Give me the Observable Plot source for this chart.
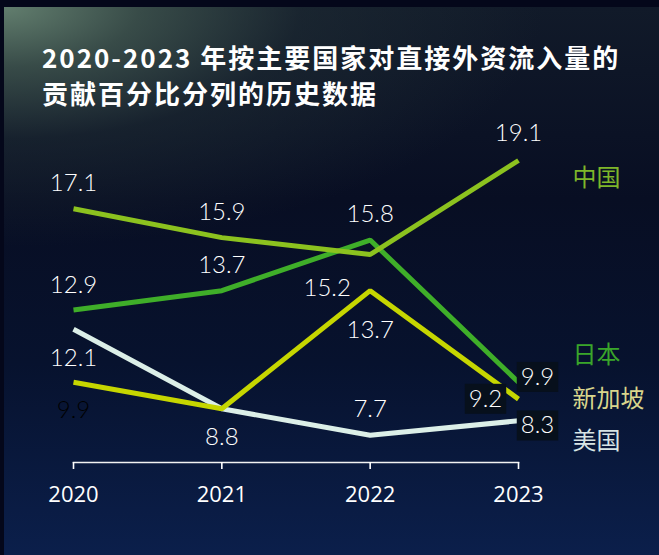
<!DOCTYPE html>
<html><head><meta charset="utf-8">
<script src="https://cdn.jsdelivr.net/npm/d3@7"></script>
<script src="https://cdn.jsdelivr.net/npm/@observablehq/plot@0.6"></script>
<style>
html,body{margin:0;padding:0;}
body{width:659px;height:555px;background:#04071a;overflow:hidden;position:relative;}
#panel{position:absolute;left:4px;top:7px;width:655px;height:548px;
 background:
  radial-gradient(ellipse 540px 240px at 0 0, rgba(98,126,110,1) 0%, rgba(66,88,80,0.8) 25%, rgba(34,48,54,0.5) 55%, rgba(0,0,0,0) 100%),
  linear-gradient(180deg, #111a29 0%, #080e23 35%, #07122e 65%, #0b1f4b 100%);}
#title{position:absolute;left:42px;top:39px;color:#fff;font-family:"Noto Sans CJK SC",sans-serif;font-weight:bold;font-size:26px;line-height:36px;letter-spacing:2px;white-space:nowrap;}
#chart{position:absolute;left:0;top:0;}
</style></head>
<body>
<div id="panel"></div>
<div id="title">2020-2023 年按主要国家对直接外资流入量的<br>贡献百分比分列的历史数据</div>
<div id="chart"></div>
<script>
const years = [2020, 2021, 2022, 2023];
const countries = ["美国", "日本", "新加坡", "中国"];
const usa = [12.1, 8.8, 7.7, 8.3];
const japan = [12.9, 13.7, 15.8, 9.9];
const singapore = [9.9, 8.8, 13.7, 9.2];
const china = [17.1, 15.9, 15.2, 19.1];
const seriesValues = [usa, japan, singapore, china];

const lineColors = ["#dcefe8", "#3fae29", "#c6d600", "#8cc21f"];
const legendColors = ["#d8e4e4", "#3aa62a", "#d9d68c", "#7fb62a"];
const axisBase = 6.57;

// label placement (pixel offsets from each point), kept apart from the data
const labelOffsets = [
  [[0,29],[0,29],[0,-26],[19,5]],
  [[0,-25],[0,-25],[0,-26],[19,-5]],
  [[0,28],null,[0,40],[-33,0]],
  [[0,-25],[0,-25],[-43,34],[0,-27]]
];
const labelKinds = [
  ["w","w","w","box"],
  ["w","w","w","box"],
  ["k",null,"w","box"],
  ["w","w","w","w"]
];
const legendOffsets = [[54,21],[54,-27],[54,0],[54,18]];

const rows = [];
countries.forEach((c, i) => years.forEach((y, j) => rows.push({country: c, year: y, value: seriesValues[i][j]})));

const labelMarks = [];
countries.forEach((c, i) => years.forEach((y, j) => {
  const off = labelOffsets[i][j];
  const kind = labelKinds[i][j];
  if (!off || !kind) return;
  labelMarks.push(Plot.text([{year: y, value: seriesValues[i][j]}], {
    x: "year", y: "value", text: d => d.value.toFixed(1),
    dx: off[0], dy: off[1],
    fill: kind === "k" ? "#000000" : "#ffffff",
    fontSize: 24, fontFamily: "Lato, 'Open Sans', sans-serif", fontWeight: 300,
    ariaDescription: kind === "box" ? "boxed" : "plain"
  }));
}));

const legendMarks = countries.map((c, i) => Plot.text([{year: years[3], value: seriesValues[i][3]}], {
  x: "year", y: "value", text: () => c, textAnchor: "start",
  dx: legendOffsets[i][0], dy: legendOffsets[i][1],
  fill: legendColors[i], fontSize: 24, fontFamily: "'Noto Sans CJK SC', sans-serif"
}));

const svg = Plot.plot({
  width: 659, height: 555,
  marginLeft: 73, marginRight: 141, marginTop: 160, marginBottom: 93,
  style: {background: "transparent", overflow: "visible"},
  x: {domain: [years[0], years[3]]},
  y: {domain: [axisBase, d3.max(china)], axis: null},
  color: {domain: countries, range: lineColors},
  marks: [
    Plot.frame({anchor: "bottom", stroke: "#f2f2f2", strokeWidth: 1.6}),
    Plot.axisX({ticks: years, tickFormat: d => String(d), tickSize: 7, tickPadding: 17,
      fontSize: 22, fontFamily: "'Open Sans', sans-serif", color: "#ffffff", strokeWidth: 1.6, label: null}),
    Plot.line(rows, {x: "year", y: "value", z: "country", stroke: "country",
      strokeWidth: 5, strokeLinecap: "butt", strokeLinejoin: "miter"}),
    ...labelMarks,
    ...legendMarks
  ]
});
document.getElementById("chart").appendChild(svg);

// dark boxes behind the 2023 data labels
svg.querySelectorAll('g[aria-description="boxed"] text').forEach(t => {
  const bb = t.getBBox();
  const r = document.createElementNS("http://www.w3.org/2000/svg", "rect");
  r.setAttribute("x", bb.x - 4);
  r.setAttribute("y", bb.y + 1);
  r.setAttribute("width", bb.width + 8);
  r.setAttribute("height", bb.height + 1);
  r.setAttribute("fill", "#07101c");
  const tr = t.getAttribute("transform");
  if (tr) r.setAttribute("transform", tr);
  t.parentNode.insertBefore(r, t);
});
</script>
</body></html>
